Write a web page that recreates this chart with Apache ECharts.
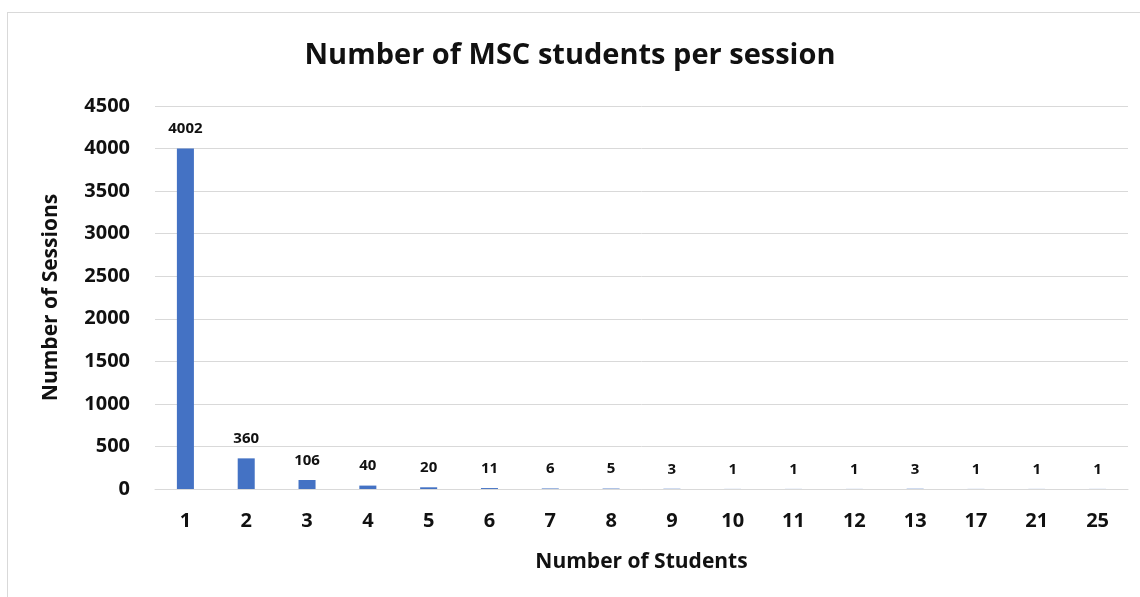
<!DOCTYPE html>
<html>
<head>
<meta charset="utf-8">
<script src="https://cdn.jsdelivr.net/npm/echarts@6/dist/echarts.min.js"></script>
<style>
  html, body { margin: 0; padding: 0; background: #fff; }
  #frame { position: absolute; left: 7px; top: 12px; width: 1140px; height: 600px;
           border-left: 1px solid #d9d9d9; border-top: 1px solid #d9d9d9; }
  #chart { position: absolute; left: 0; top: 0; width: 1140px; height: 597px; }
</style>
</head>
<body>
<div id="frame"></div>
<div id="chart"></div>
<script>
  // number of students in a session
  const students = ['1', '2', '3', '4', '5', '6', '7', '8', '9', '10', '11', '12', '13', '17', '21', '25']
  // how many sessions had that many students
  const sessions = [4002, 360, 106, 40, 20, 11, 6, 5, 3, 1, 1, 1, 3, 1, 1, 1]

  const font = '"Open Sans", "Liberation Sans", sans-serif'

  const chart = echarts.init(document.getElementById('chart'))
  chart.setOption({
    animation: false,
    title: {
      text: 'Number of MSC students per session',
      left: 'center',
      top: 36,
      textStyle: { fontFamily: font, fontSize: 29, fontWeight: 'bold', color: '#111' }
    },
    grid: {
      left: 155,
      right: 12,
      top: 106,
      bottom: 108
    },
    xAxis: {
      type: 'category',
      data: students,
      name: 'Number of Students',
      nameLocation: 'middle',
      nameGap: 63,
      nameTextStyle: { fontFamily: font, fontSize: 21, fontWeight: 'bold', color: '#111' },
      axisTick: { show: false },
      axisLine: { lineStyle: { color: '#d9d9d9' } },
      axisLabel: { fontFamily: font, fontSize: 20, fontWeight: 'bold', color: '#111', margin: 22 }
    },
    yAxis: {
      type: 'value',
      min: 0,
      max: 4500,
      interval: 500,
      name: 'Number of Sessions',
      nameLocation: 'middle',
      nameGap: 93,
      nameTextStyle: { fontFamily: font, fontSize: 21, fontWeight: 'bold', color: '#111' },
      axisLabel: {
        fontFamily: font, fontSize: 20, fontWeight: 'bold', color: '#111', margin: 25,
        formatter: v => String(v)
      },
      splitLine: { lineStyle: { color: '#d9d9d9' } }
    },
    series: [{
      type: 'bar',
      data: sessions,
      barWidth: '28%',
      itemStyle: { color: '#4472c4' },
      label: {
        show: true,
        position: 'top',
        distance: 12,
        fontFamily: font,
        fontSize: 15,
        fontWeight: 'bold',
        color: '#111'
      }
    }]
  })
</script>
</body>
</html>
